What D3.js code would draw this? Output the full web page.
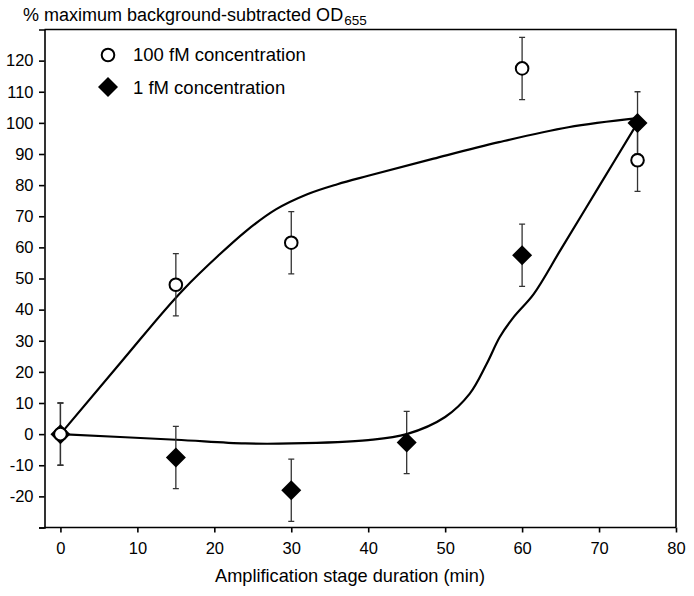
<!DOCTYPE html>
<html><head><meta charset="utf-8">
<script src="https://cdn.jsdelivr.net/npm/d3@7"></script>
<style>
html,body{margin:0;padding:0;background:#fff;}
text{font-family:"Liberation Sans",Arial,sans-serif;fill:#000;}
</style></head>
<body><svg id="chart" width="694" height="596"></svg>
<script>
// ---- data ----
const xTicks = [0,10,20,30,40,50,60,70,80];
const yTicks = [-20,-10,0,10,20,30,40,50,60,70,80,90,100,110,120];
const seriesNames = ["100 fM concentration","1 fM concentration"];
const times100 = [0,15,30,60,75];
const values100 = [0,48,61.5,117.5,88];
const errors100 = [10,10,10,10,10];
const times1 = [0,15,30,45,60,75];
const values1 = [0,-7.5,-18,-2.7,57.5,100];
const errors1 = [10,10,10,10,10,10];
// fitted trend curves
const curve100X = [0,8,16,20.5,24,28,32,36,40,48.5,57,66,75];
const curve100Y = [0,23.5,46.5,57.3,65,72.2,77,80.3,83,88.5,93.8,98.6,101.5];
const curve1X = [0,15,24,30,40,45,50,53.2,55.4,57.1,58.9,61.5,65,70,75];
const curve1Y = [0,-1.8,-3,-3,-1.9,0,5.5,13,22.6,31.2,37.6,45,59.2,79.6,100];

// ---- layout ----
const svg = d3.select("#chart");
const L = 44.5, R = 676, T = 29.5, B = 527.5;
const x = d3.scaleLinear().domain([-2.07,80]).range([L,R]);
const y = d3.scaleLinear().domain([-30,130]).range([B,T]);
const tickFont = 16.5;

// box
svg.append("path")
  .attr("d", `M${L},${T}H${R}V${B}`)
  .attr("fill","none").attr("stroke","#000").attr("stroke-width",1.6);

// y axis
const yAxis = d3.axisLeft(y).tickValues([-30].concat(yTicks)).tickSize(5.5).tickPadding(5.5)
  .tickFormat(d => d === -30 ? "" : d);
const gy = svg.append("g").attr("transform",`translate(${L},0)`).call(yAxis);
gy.select(".domain").attr("stroke-width",1.6);
gy.selectAll(".tick line").attr("stroke-width",1.6);
gy.selectAll("text").style("font-size",tickFont+"px").attr("fill","#000");

// x axis
const xAxis = d3.axisBottom(x).tickValues(xTicks).tickSize(5).tickPadding(10);
const gx = svg.append("g").attr("transform",`translate(0,${B})`).call(xAxis);
gx.select(".domain").attr("d",`M${L},0H${R}`).attr("stroke-width",1.6);
gx.selectAll(".tick line").attr("stroke-width",1.6);
gx.selectAll("text").style("font-size",tickFont+"px").attr("fill","#000");

// axis titles
const yt = svg.append("text").attr("x",23).attr("y",21).style("font-size","18px");
yt.append("tspan").text("% maximum background-subtracted OD");
yt.append("tspan").attr("dx",1).attr("dy",4).style("font-size","13.5px").text("655");
svg.append("text").attr("x",350).attr("y",582).attr("text-anchor","middle")
  .style("font-size","18.2px").text("Amplification stage duration (min)");

// curves
const line = d3.line().x(d=>x(d[0])).y(d=>y(d[1])).curve(d3.curveMonotoneX);
svg.append("path").datum(d3.zip(curve100X,curve100Y)).attr("d",line)
  .attr("fill","none").attr("stroke","#000").attr("stroke-width",2.2);
svg.append("path").datum(d3.zip(curve1X,curve1Y)).attr("d",line.curve(d3.curveCatmullRom.alpha(0.5)))
  .attr("fill","none").attr("stroke","#000").attr("stroke-width",2.2);

// error bars
function errBars(ts, vs, es){
  const g = svg.append("g").attr("stroke","#333").attr("stroke-width",1.3).attr("fill","none");
  ts.forEach((t,i)=>{
    const cx = x(t), y1 = y(vs[i]+es[i]), y2 = y(vs[i]-es[i]);
    g.append("path").attr("d",`M${cx},${y1}V${y2}M${cx-3},${y1}H${cx+3}M${cx-3},${y2}H${cx+3}`);
  });
}
errBars(times1, values1, errors1);
errBars(times100, values100, errors100);

// diamonds
const dsz = 10;
function diamond(cx,cy){ return `M${cx},${cy-dsz}L${cx+dsz},${cy}L${cx},${cy+dsz}L${cx-dsz},${cy}Z`; }
svg.append("g").selectAll("path").data(d3.zip(times1,values1)).join("path")
  .attr("d",d=>diamond(x(d[0]),y(d[1]))).attr("fill","#000");

// circles
svg.append("g").selectAll("circle").data(d3.zip(times100,values100)).join("circle")
  .attr("cx",d=>x(d[0])).attr("cy",d=>y(d[1])).attr("r",6.3)
  .attr("fill","#fff").attr("stroke","#000").attr("stroke-width",2);

// legend
const lg = svg.append("g");
lg.append("circle").attr("cx",108).attr("cy",55).attr("r",6.3)
  .attr("fill","#fff").attr("stroke","#000").attr("stroke-width",2);
lg.append("text").attr("x",133).attr("y",61).style("font-size","18.5px").text(seriesNames[0]);
lg.append("path").attr("d",diamond(108,87)).attr("fill","#000");
lg.append("text").attr("x",133).attr("y",93.5).style("font-size","18.5px").text(seriesNames[1]);
</script></body></html>
